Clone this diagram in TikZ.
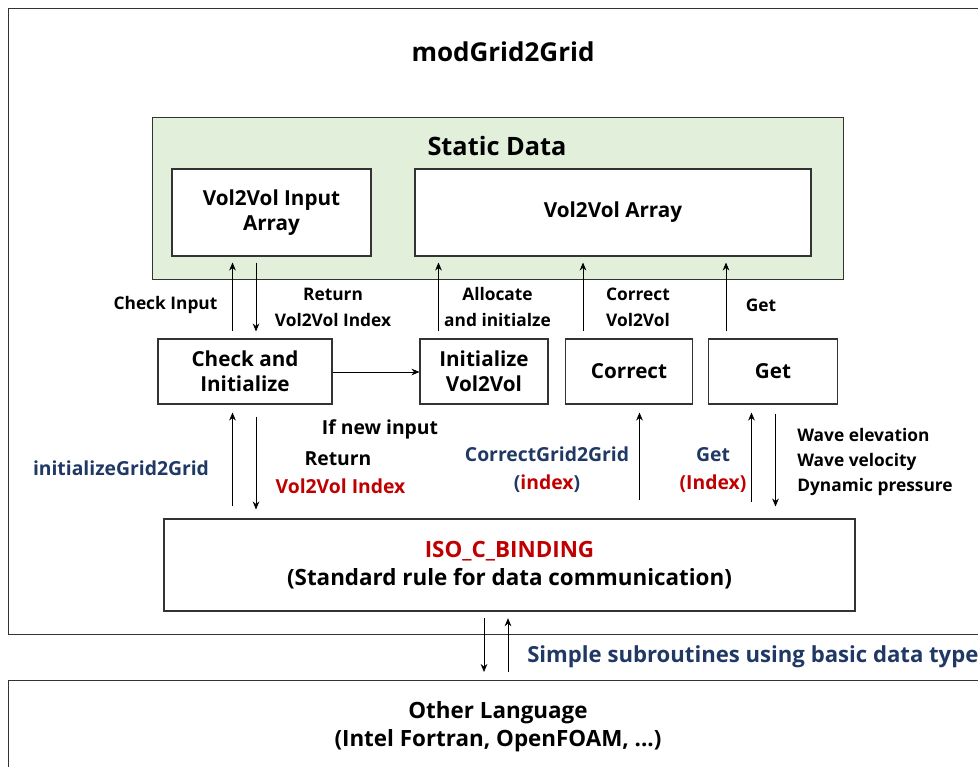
\documentclass[tikz,border=0pt]{standalone}
\usepackage{fontspec}
\setmainfont{Open Sans}
\usetikzlibrary{arrows.meta,calc}
\definecolor{dblue}{HTML}{1F3864}
\definecolor{dred}{HTML}{C00000}
\definecolor{lgreen}{HTML}{E2EFDA}
\begin{document}
\begin{tikzpicture}[x=0.75pt,y=-0.75pt,
  frame/.style={draw=black!80, line width=0.9pt, inner sep=0pt, anchor=north west},
  box/.style={draw=black!80, line width=0.8pt, fill=white, inner sep=0pt, align=center,
    font=\bfseries\fontsize{15.5}{19}\selectfont},
  arr/.style={-{Stealth[length=6pt,width=5pt]}, line width=0.6pt},
  lbl/.style={inner sep=0pt, align=center, font=\bfseries\fontsize{13}{19.5}\selectfont},
  lowlbl/.style={inner sep=0pt, align=center, font=\bfseries\fontsize{14.5}{21}\selectfont},
  big/.style={inner sep=0pt, align=center, font=\bfseries\fontsize{16.8}{21}\selectfont}]
\useasboundingbox (0,0) rectangle (978,767);
\clip (0,0) rectangle (978,767);
% outer frames
\node[frame, minimum width=0.75pt*1000, minimum height=0.75pt*626] (outer) at (8,8) {};
\node[frame, minimum width=0.75pt*1000, minimum height=0.75pt*120] (otherbox) at (8,680) {};
\node[frame, fill=lgreen, minimum width=0.75pt*691, minimum height=0.75pt*162] (static) at (152,117) {};
% titles
\node[inner sep=0pt, font=\bfseries\fontsize{19.5}{22}\selectfont] (title) at (503,52) {modGrid2Grid};
\node[inner sep=0pt, font=\bfseries\fontsize{19}{22}\selectfont] (stitle) at (497,146) {Static Data};
% boxes
\node[box, minimum width=0.75pt*199, minimum height=0.75pt*87] (inarr) at (271.5,212.5) {Vol2Vol Input\\Array};
\node[box, minimum width=0.75pt*396, minimum height=0.75pt*87] (varr) at (613,212.5) {Vol2Vol Array};
\node[box, minimum width=0.75pt*174, minimum height=0.75pt*65] (chk) at (245,371.5) {Check and\\Initialize};
\node[box, minimum width=0.75pt*128, minimum height=0.75pt*65] (init) at (484,371.5) {Initialize\\Vol2Vol};
\node[box, minimum width=0.75pt*127, minimum height=0.75pt*65] (corr) at (629,371.5) {Correct};
\node[box, minimum width=0.75pt*129, minimum height=0.75pt*65] (get) at (773,371.5) {Get};
\node[box, minimum width=0.75pt*691, minimum height=0.75pt*92, font=\bfseries\fontsize{16.8}{20.5}\selectfont] (iso) at (509.5,565)
  {\textcolor{dred}{ISO\_C\_BINDING}\\(Standard rule for data communication)};
% x positions of connectors
\coordinate (x1) at (232.5,0);
\coordinate (x2) at (256,0);
\coordinate (x3) at (438.5,0);
\coordinate (x4) at (583,0);
\coordinate (x5) at (726,0);
\coordinate (x6) at (639.5,0);
\coordinate (x7) at (751.5,0);
\coordinate (x8) at (775.5,0);
\coordinate (x9) at (484,0);
\coordinate (x10) at (508,0);
% upper connectors
\draw[arr, shorten <=5.25pt, shorten >=4.5pt] (chk.north -| x1) -- (inarr.south -| x1);
\draw[arr, shorten <=4.5pt, shorten >=5.25pt] (inarr.south -| x2) -- (chk.north -| x2);
\draw[arr, shorten <=5.25pt, shorten >=4.5pt] (init.north -| x3) -- (varr.south -| x3);
\draw[arr, shorten <=5.25pt, shorten >=4.5pt] (corr.north -| x4) -- (varr.south -| x4);
\draw[arr, shorten <=5.25pt, shorten >=4.5pt] (get.north -| x5) -- (varr.south -| x5);
\draw[arr] (chk.east |- 0,372) -- (init.west |- 0,372);
% lower connectors
\draw[arr, shorten <=9pt, shorten >=6pt] (iso.north -| x1) -- (chk.south -| x1);
\draw[arr, shorten <=9pt, shorten >=6.75pt] (chk.south -| x2) -- (iso.north -| x2);
\draw[arr, shorten <=13.5pt, shorten >=6pt] (iso.north -| x6) -- (corr.south -| x6);
\draw[arr, shorten <=12pt, shorten >=6pt] (iso.north -| x7) -- (get.south -| x7);
\draw[arr, shorten <=6.75pt, shorten >=9pt] (get.south -| x8) -- (iso.north -| x8);
% bottom connectors
\draw[arr, shorten <=4.5pt, shorten >=6pt] (iso.south -| x9) -- (otherbox.north -| x9);
\draw[arr, shorten <=6pt, shorten >=5pt] (otherbox.north -| x10) -- (iso.south -| x10);
% labels
\node[lbl] (l1) at (165.5,305) {Check Input};
\node[lbl] (l2) at (333,307) {Return\\Vol2Vol Index};
\node[lbl] (l3) at (497.5,307) {Allocate\\and initialze};
\node[lbl] (l4) at (638,307) {Correct\\Vol2Vol};
\node[lbl] (l5) at (761,305) {Get};
\node[lowlbl] (l6) at (380,429) {If new input};
\node[lowlbl] (l7) at (338,459) {Return};
\node[lowlbl, text=dred] (l8) at (340.5,486) {Vol2Vol Index};
\node[lowlbl, text=dblue] (l9) at (121,468) {initializeGrid2Grid};
\node[lowlbl, text=dblue] (l10) at (547,470) {CorrectGrid2Grid\\(\textcolor{dred}{index})};
\node[lowlbl, text=dblue] (l11) at (713,470) {Get\\\textcolor{dred}{(Index)}};
\node[lbl, align=left, anchor=west, font=\bfseries\fontsize{13}{19}\selectfont] (l12) at (797,462) {Wave elevation\\Wave velocity\\Dynamic pressure};
\node[big, text=dblue, anchor=west, font=\bfseries\fontsize{16.6}{21}\selectfont] (l13) at (527,657) {Simple subroutines using basic data type};
\node[big] (l14) at (498,727) {Other Language\\(Intel Fortran, OpenFOAM, ...)};
\end{tikzpicture}
\end{document}
